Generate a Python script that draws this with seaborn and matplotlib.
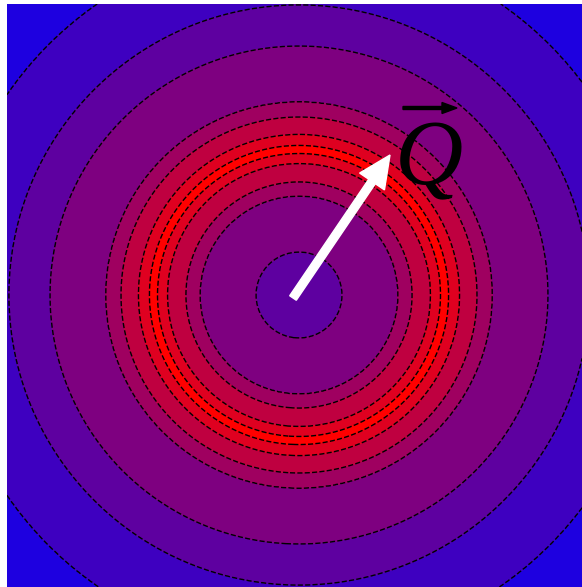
import numpy as np
import matplotlib
matplotlib.use('Agg')
import matplotlib.pyplot as plt
import seaborn as sns

# radial profile: ring radius (px from centre) -> level index
ring_radius = [0, 43, 99, 113, 131.5, 141.5, 145.5, 149.5, 160.5, 178, 193, 249, 290, 354, 460]
ring_level = [1.6, 2, 3, 4, 5, 6, 6.5, 6, 5, 4, 3, 2, 1, 0, -0.5]

# contour levels and band colours (blue -> red)
levels = [-1, 0, 1, 2, 3, 4, 5, 6, 7]
band_colors = sns.blend_palette(["#1e00e0", "#ff0000"], 8)

# arrow Q (data units = pixels, centre at 0,0)
q_tail = (-6, -3)
q_tip = (91, 140)

sns.set_style("white")

fig = plt.figure(figsize=(5.82, 5.87), dpi=100)
ax = fig.add_axes([7 / 582, 0, 575 / 582, 583 / 587])

x = np.linspace(-292, 283, 700)
y = np.linspace(-292, 291, 700)
X, Y = np.meshgrid(x, y)
R = np.sqrt(X ** 2 + Y ** 2)
Z = np.interp(R, ring_radius, ring_level)

ax.contourf(X, Y, Z, levels=levels, colors=band_colors)
ax.contour(X, Y, Z, levels=levels[1:-1], colors='k', linewidths=1.0, linestyles='--')

# flecha blanca
ax.arrow(q_tail[0], q_tail[1], q_tip[0] - q_tail[0], q_tip[1] - q_tail[1],
         width=8, head_width=30, head_length=32, length_includes_head=True,
         color='white', zorder=5)

# etiqueta Q con flecha encima
ax.text(130, 133, 'Q', fontsize=68, family='Liberation Serif', style='italic',
        color='black', ha='center', va='center', zorder=6)
ax.arrow(104, 187, 54, 0, width=3, head_width=11, head_length=15,
         length_includes_head=True, color='black', zorder=6)

ax.set_xlim(-292, 283)
ax.set_ylim(-292, 291)
ax.set_xticks([])
ax.set_yticks([])
for s in ax.spines.values():
    s.set_visible(False)

plt.savefig('out.png', dpi=100)
